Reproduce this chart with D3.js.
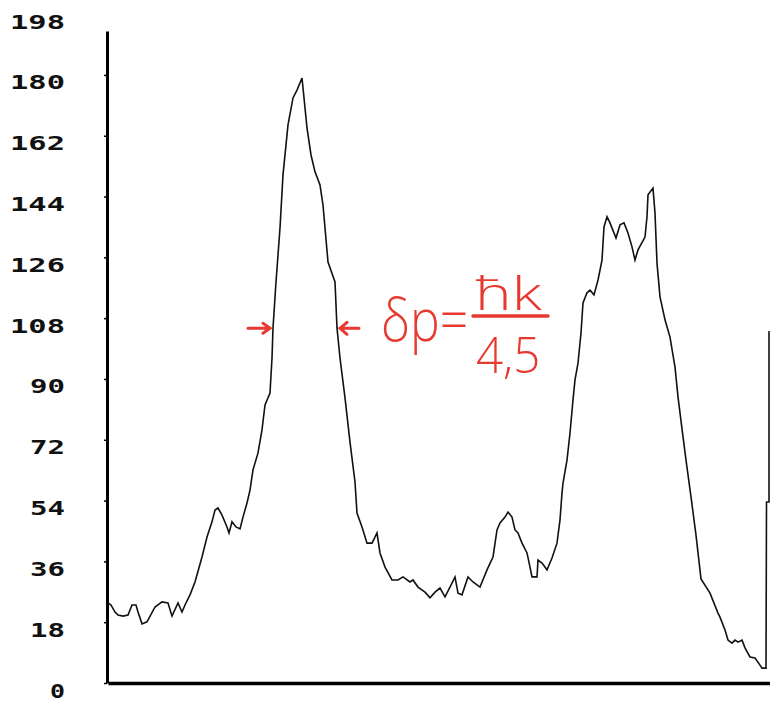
<!DOCTYPE html>
<html>
<head>
<meta charset="utf-8">
<script src="https://cdnjs.cloudflare.com/ajax/libs/d3/7.8.5/d3.min.js"></script>
<style>
  body { margin: 0; background: #fff; }
</style>
</head>
<body>
<div class="mainContainer"></div>
<script>
// channel number (x) and counts (y)
const channels = [0, 1.5, 3.5, 5, 7.5, 10, 12, 14, 15, 17, 19.5, 23.5, 27, 30, 32, 35, 37, 38.5, 41, 43.5,
  47, 49.5, 52, 53.5, 55, 57, 59.5, 60.5, 62, 64, 66, 67.5, 69.5, 71, 72.5, 75, 77, 78.5, 81, 82,
  82.5, 84, 86, 87.5, 90, 92.5, 94.5, 97, 98, 99.5, 101.5, 103.5, 106, 107.5, 110, 113.5, 114.5, 116, 118.5, 121,
  123.5, 124.5, 127, 129.5, 132, 134.5, 136, 138.5, 142, 145, 147.5, 151, 152.5, 155, 158.5, 161, 163.5, 166, 168.5, 171,
  173.5, 175, 177, 180, 182.5, 186, 189.5, 192.5, 194.5, 196, 198.5, 200, 202, 203.5, 205, 207, 209.5, 211,
  212, 214.5, 215, 217, 219.5, 222, 224.5, 226, 227, 227.5, 229.5, 231, 232.5, 233.5, 235, 236.5, 237.5, 239.5,
  241, 243, 245, 247, 248, 249.5, 251, 254, 256, 258, 260, 262, 263.5, 265, 268.5, 269.5, 270, 272.5,
  273.5, 274.5, 276, 278.5, 281, 283.5, 285, 287, 289, 291.5, 294, 296.5, 301, 305, 306, 308.5, 310, 312,
  313.5, 315, 317, 318.5, 321, 323.5, 326, 327, 329, 329.25, 330.5, 330.5];
const counts = [23.7, 23.1, 21.0, 20.1, 19.8, 20.1, 23.1, 23.1, 21.0, 17.5, 18.1, 22.5, 24.0, 23.7, 19.8, 23.7, 21.0, 23.1, 26.1, 29.9,
  37.3, 43.2, 47.7, 51.2, 51.8, 49.7, 46.2, 44.4, 47.7, 46.2, 45.6, 49.1, 53.3, 57.1, 63.1, 68.1, 74.9, 82.3, 85.8, 96.2,
  105.1, 118.7, 134.7, 150.4, 165.2, 173.2, 175.5, 179.1, 173.2, 164.3, 156.3, 151.3, 147.4, 141.5, 124.6, 118.7, 105.1, 96.2, 84.4, 71.3,
  59.5, 50.3, 46.2, 41.4, 41.4, 44.4, 38.5, 34.3, 30.5, 30.5, 31.4, 29.9, 30.5, 28.4, 26.9, 25.2, 26.9, 28.1, 25.5, 28.4,
  31.4, 26.6, 26.1, 31.4, 29.9, 28.4, 33.5, 37.3, 45.3, 47.4, 49.1, 50.6, 49.1, 45.3, 44.4, 41.4, 38.5, 34.3,
  31.4, 31.4, 36.4, 35.5, 33.5, 37.0, 41.4, 48.3, 56.2, 59.2, 66.0, 74.0, 83.8, 89.7, 94.7, 103.6, 112.5, 115.5,
  116.3, 114.9, 119.3, 125.2, 135.0, 138.0, 136.2, 131.7, 135.6, 136.2, 133.2, 129.1, 125.2, 128.2, 132.0, 138.0, 144.5, 146.5,
  139.1, 124.3, 114.3, 107.5, 102.4, 93.5, 84.7, 75.2, 66.0, 55.1, 43.8, 30.8, 26.6, 20.7, 19.5, 15.7, 12.7, 11.8,
  12.7, 12.1, 12.7, 10.4, 7.7, 7.4, 5.3, 4.4, 4.4, 53.6, 53.6, 104.2];
const yTicks = [0, 18, 36, 54, 72, 90, 108, 126, 144, 162, 180, 198];

// half-height markers
const markLevel = 105;
const markLeft = 82.5;
const markRight = 114.5;

const svg = d3.select('.mainContainer')
    .append('svg')
    .attr('width', 770)
    .attr('height', 701)
    .style('display', 'block');

const x = d3.scaleLinear()
    .domain([0, 331])
    .range([108, 770]);

const y = d3.scaleLinear()
    .domain([0, 193])
    .range([683, 31]);

// y axis
const yAxis = d3.axisLeft(y)
    .tickValues(yTicks)
    .tickSizeInner(3)
    .tickSizeOuter(0)
    .tickFormat(d => d);

const yAxisGroup = svg.append('g')
    .attr('transform', 'translate(107,0)')
    .call(yAxis);

yAxisGroup.select('.domain')
    .attr('stroke', '#000')
    .attr('stroke-width', 3);

// small marks only where the axis line runs
yAxisGroup.selectAll('.tick line')
    .attr('stroke', '#000')
    .attr('stroke-width', 1.5)
    .attr('display', d => d > y.domain()[1] ? 'none' : null);

yAxisGroup.selectAll('.tick text')
    .attr('font-family', '"DejaVu Sans Mono", monospace')
    .attr('font-weight', 'bold')
    .attr('font-size', 19)
    .attr('fill', '#111')
    .attr('text-anchor', 'start')
    .attr('dy', null)
    .attr('y', 14)
    .attr('lengthAdjust', 'spacingAndGlyphs')
    .attr('textLength', d => String(d).length * 20 - 5)
    .attr('x', d => -42 - (String(d).length * 20 - 5));

// x axis, no ticks
const xAxisGroup = svg.append('g')
    .attr('transform', `translate(0,${y(0)})`)
    .call(d3.axisBottom(x).tickValues([]).tickSizeOuter(0));

xAxisGroup.select('.domain')
    .attr('stroke', '#000')
    .attr('stroke-width', 3.5);

// the trace
const line = d3.line()
    .x((d, i) => x(channels[i]))
    .y(d => y(d));

svg.append('path')
    .datum(counts)
    .attr('fill', 'none')
    .attr('stroke', '#111')
    .attr('stroke-width', 1.6)
    .attr('d', line);

// red handwritten note
const red = '#e63a30';
const note = svg.append('g').attr('fill', red).attr('stroke', red);

const ay = y(markLevel);
const lx = x(markLeft) - 2;
const rx = x(markRight) + 2;

note.append('path')
    .attr('fill', 'none')
    .attr('stroke-width', 3)
    .attr('stroke-linecap', 'round')
    .attr('d', `M${lx - 23},${ay} L${lx - 1},${ay} M${lx - 8},${ay - 5} L${lx - 1},${ay} L${lx - 8},${ay + 5}`);

note.append('path')
    .attr('fill', 'none')
    .attr('stroke-width', 3)
    .attr('stroke-linecap', 'round')
    .attr('d', `M${rx + 20},${ay} L${rx + 1},${ay} M${rx + 8},${ay - 6} L${rx + 1},${ay} L${rx + 8},${ay + 6}`);

const handFont = '"Open Sans", "DejaVu Sans", sans-serif';

// squeeze or stretch each piece like the handwriting
const handText = (str, tx, ty, size, sx) => note.append('text')
    .attr('transform', `translate(${tx},${ty}) scale(${sx},1)`)
    .attr('stroke', 'none')
    .attr('font-family', handFont)
    .attr('font-weight', 300)
    .attr('font-size', size)
    .text(str);

handText('δp=', 381, 341, 58, 0.86);
handText('ħk', 475, 310, 46, 1.35);
handText('4,5', 476, 373, 50, 0.95);

note.append('line')
    .attr('x1', 473)
    .attr('x2', 548)
    .attr('y1', 316)
    .attr('y2', 316)
    .attr('stroke-width', 3.5)
    .attr('stroke-linecap', 'round');
</script>
</body>
</html>
